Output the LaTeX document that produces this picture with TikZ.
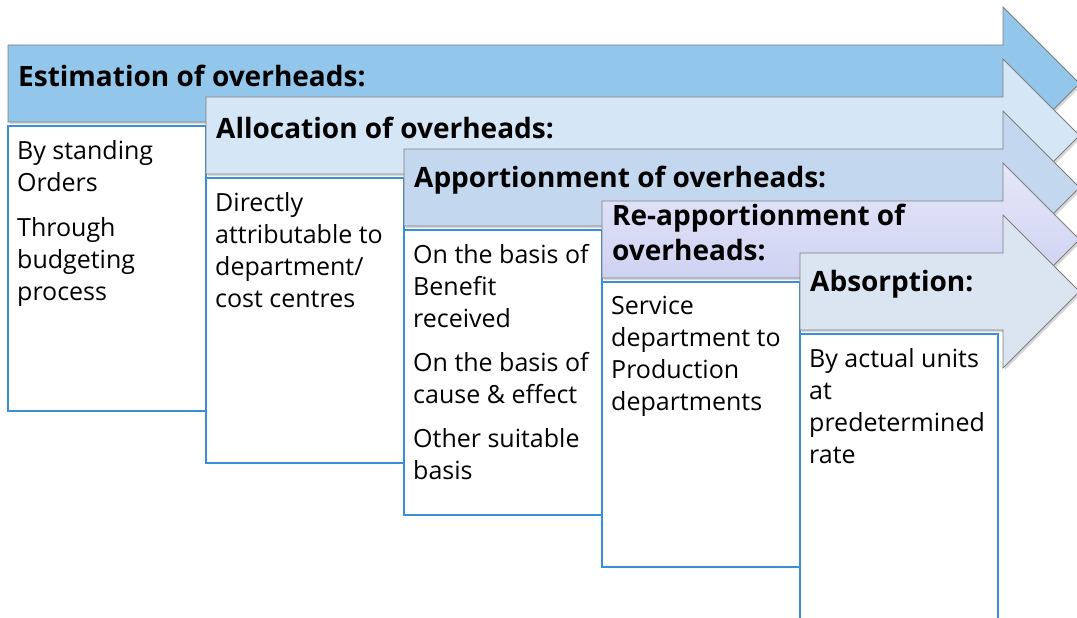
\documentclass[tikz,border=0pt]{standalone}
\usepackage{fontspec}
\setmainfont{Open Sans}
\usetikzlibrary{shadows}
\definecolor{estimfill}{HTML}{92C6EB}
\definecolor{allocfill}{HTML}{D5E7F6}
\definecolor{apporfill}{HTML}{C3D7EE}
\definecolor{reapptop}{HTML}{E6E8F8}
\definecolor{reappbot}{HTML}{C6CBF0}
\definecolor{absorfill}{HTML}{DAE5F1}
\definecolor{edgegray}{HTML}{7F7F7F}
\definecolor{boxblue}{HTML}{3A8FD9}
\tikzset{
  stagearrow/.style={draw=edgegray, line width=0.8pt,
    drop shadow={opacity=0.3, shadow xshift=2pt, shadow yshift=-2pt}},
  headtext/.style={anchor=west, inner sep=0pt, align=left,
    font=\bfseries\fontsize{28}{35}\selectfont},
  bodybox/.style={draw=boxblue, line width=1.2pt, fill=white},
  bodytext/.style={anchor=north west, inner sep=0pt, align=left,
    font=\fontsize{25}{32}\selectfont},
}
\begin{document}
\begin{tikzpicture}[x=1pt,y=-1pt]
\useasboundingbox[fill=white] (0,0) rectangle (1077,618);
% five stages, each one step right and down
\foreach \i/\shade in {0/{fill=estimfill},1/{fill=allocfill},2/{fill=apporfill},
    3/{top color=reapptop,bottom color=reappbot},4/{fill=absorfill}} {
  \pgfmathsetmacro\L{8+198*\i}
  \pgfmathsetmacro\T{45+52*\i}
  \pgfmathsetmacro\B{\T+77}
  \pgfmathsetmacro\R{\L+198}
  \expandafter\path\expandafter[\shade,stagearrow] (\L,\T) -- (1003,\T) -- (1003,\T-38)
    -- (1079.5,\T+38.5) -- (1003,\B+38) -- (1003,\B) -- (\L,\B) -- cycle;
  \draw[bodybox] (\L,\B+4) rectangle (\R,\B+289);
  \coordinate (top\i) at (\L,\T);
  \coordinate (box\i) at (\L,\B+4);
}
\node[headtext] (estim) at ([xshift=10pt,yshift=-31pt]top0) {Estimation of overheads:};
\node[headtext] (alloc) at ([xshift=10pt,yshift=-31pt]top1) {Allocation of overheads:};
\node[headtext] (appor) at ([xshift=10pt,yshift=-31pt]top2) {Apportionment of overheads:};
\node[headtext] (reapp) at ([xshift=10pt,yshift=-31pt]top3) {Re-apportionment of\\overheads:};
\node[headtext] (absor) at ([xshift=10pt,yshift=-31pt]top4) {Absorption:};
\node[bodytext] (estimtxt) at ([xshift=9pt,yshift=-14pt]box0)
  {By standing\\Orders\\[13pt]Through\\budgeting\\process};
\node[bodytext] (alloctxt) at ([xshift=9pt,yshift=-14pt]box1)
  {Directly\\attributable to\\department/\\cost centres};
\node[bodytext] (apportxt) at ([xshift=9pt,yshift=-14pt]box2)
  {On the basis of\\Benefit\\received\\[12pt]On the basis of\\cause \& effect\\[12pt]Other suitable\\basis};
\node[bodytext] (reapptxt) at ([xshift=9pt,yshift=-14pt]box3)
  {Service\\department to\\Production\\departments};
\node[bodytext] (absortxt) at ([xshift=9pt,yshift=-14pt]box4)
  {By actual units\\at\\predetermined\\rate};
\end{tikzpicture}
\end{document}
